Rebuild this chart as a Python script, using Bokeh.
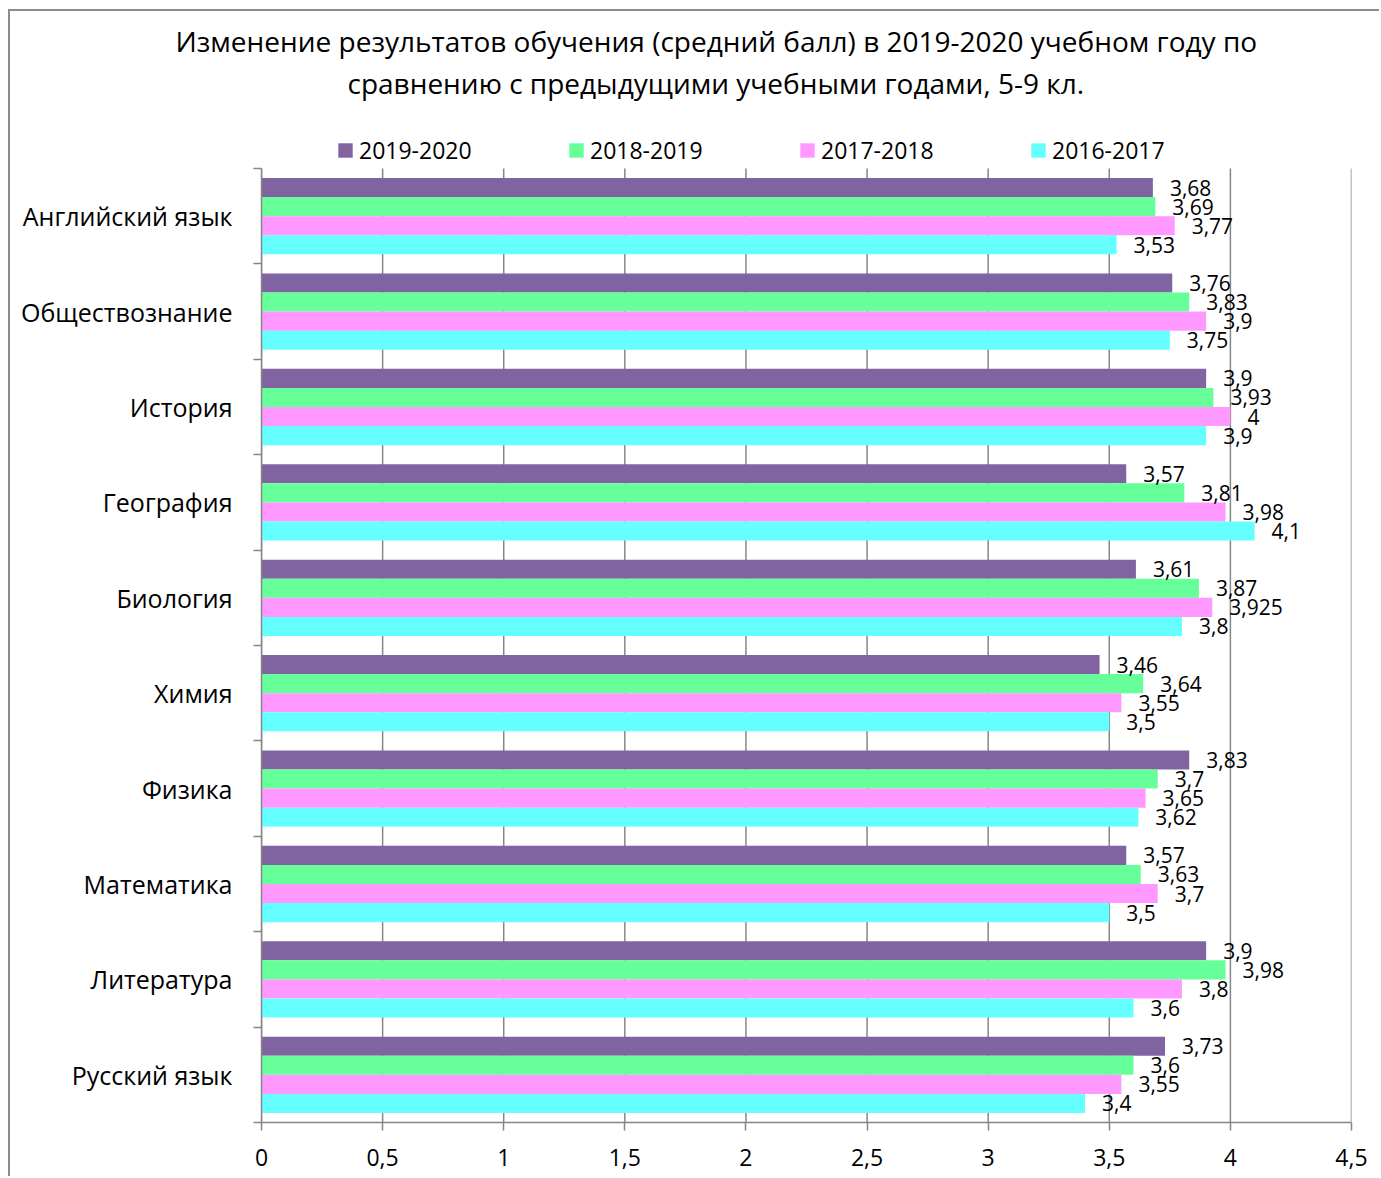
from bokeh.plotting import figure
from bokeh.models import (ColumnDataSource, FixedTicker, LabelSet, Legend,
                          LegendItem, Range1d, Title)
from bokeh.embed import file_html
from bokeh.resources import INLINE
from bokeh.core.properties import value

# ---------------- data ----------------
subjects = ["Английский язык", "Обществознание", "История", "География", "Биология",
            "Химия", "Физика", "Математика", "Литература", "Русский язык"]
s2019_2020 = [3.68, 3.76, 3.9, 3.57, 3.61, 3.46, 3.83, 3.57, 3.9, 3.73]
s2018_2019 = [3.69, 3.83, 3.93, 3.81, 3.87, 3.64, 3.7, 3.63, 3.98, 3.6]
s2017_2018 = [3.77, 3.9, 4.0, 3.98, 3.925, 3.55, 3.65, 3.7, 3.8, 3.55]
s2016_2017 = [3.53, 3.75, 3.9, 4.1, 3.8, 3.5, 3.62, 3.5, 3.6, 3.4]
series_names = ["2019-2020", "2018-2019", "2017-2018", "2016-2017"]
x_ticks = [0, 0.5, 1, 1.5, 2, 2.5, 3, 3.5, 4, 4.5]
x_tick_labels = ["0", "0,5", "1", "1,5", "2", "2,5", "3", "3,5", "4", "4,5"]
title_lines = ["Изменение результатов обучения (средний балл) в 2019-2020 учебном году по",
               "сравнению с предыдущими учебными годами, 5-9 кл."]

series_values = [s2019_2020, s2018_2019, s2017_2018, s2016_2017]
colors = ["#8064A2", "#66FF99", "#FF99FF", "#66FFFF"]
offsets = [0.3, 0.1, -0.1, -0.3]
BAR_H = 0.2
FONT = "Open Sans"
GRAY = "#868686"

n = len(subjects)
centers = [n - i - 0.5 for i in range(n)]

# layout (canvas pixels)
W, H = 1371, 1167
BORDER_L, BORDER_R, BORDER_T, BORDER_B = 251, 30, 92, 56
plot_px = 954                       # height occupied by the category bands
frame_px = H - BORDER_T - BORDER_B  # frame also hosts the legend row
y_top = n * frame_px / plot_px

p = figure(width=W, height=H, output_backend="svg", toolbar_location=None,
           x_range=Range1d(0, 4.5), y_range=Range1d(0, y_top),
           min_border_left=BORDER_L, min_border_right=BORDER_R, min_border_top=BORDER_T,
           min_border_bottom=BORDER_B, outline_line_color=None, title=None)
p.background_fill_color = "white"
p.border_fill_color = "white"

# vertical grid lines (only over the category bands)
p.segment(x0=x_ticks, y0=0, x1=x_ticks, y1=n, line_color=GRAY, line_width=1.5,
          level="underlay")
p.xgrid.visible = False
p.ygrid.visible = False

renderers = []
for name, vals, col, off in zip(series_names, series_values, colors, offsets):
    ys = [c + off for c in centers]
    lbls = [("%g" % v).replace(".", ",") for v in vals]
    src = ColumnDataSource(dict(y=ys, right=vals, lbl=lbls))
    r = p.hbar(y="y", left=0, right="right", height=BAR_H, source=src,
               fill_color=col, line_color=None)
    renderers.append(r)
    ls = LabelSet(x="right", y="y", text="lbl", source=src, x_offset=17,
                  text_baseline="middle", text_align="left",
                  text_font=value(FONT), text_font_size="21px", text_color="black")
    p.add_layout(ls)

# x axis
xa = p.xaxis[0]
xa.ticker = FixedTicker(ticks=x_ticks)
xa.major_label_overrides = dict(zip(x_ticks, x_tick_labels))
xa.axis_line_color = GRAY
xa.axis_line_width = 1.5
xa.major_tick_line_color = GRAY
xa.major_tick_line_width = 1.5
xa.major_tick_out = 8
xa.major_tick_in = 0
xa.minor_tick_line_color = None
xa.major_label_text_font = FONT
xa.major_label_text_font_size = "23px"
xa.major_label_text_color = "black"
xa.major_label_standoff = 18

# y axis
ya = p.yaxis[0]
ya.bounds = (0, n)
ya.ticker = FixedTicker(ticks=centers, minor_ticks=list(range(n + 1)))
ya.major_label_overrides = dict(zip(centers, subjects))
ya.axis_line_color = GRAY
ya.axis_line_width = 1.5
ya.major_tick_line_color = None
ya.major_tick_out = 0
ya.major_tick_in = 0
ya.minor_tick_line_color = GRAY
ya.minor_tick_line_width = 1.5
ya.minor_tick_out = 8
ya.minor_tick_in = 0
ya.major_label_text_font = FONT
ya.major_label_text_font_size = "25px"
ya.major_label_text_color = "black"
ya.major_label_standoff = 21

# legend (inside the frame, above the category bands)
legend = Legend(items=[LegendItem(label=nm, renderers=[r]) for nm, r in zip(series_names, renderers)],
                orientation="horizontal", location=(75, 956),
                glyph_width=18, glyph_height=18, label_standoff=5,
                label_width=190, spacing=18, padding=0, margin=0,
                border_line_color=None, background_fill_alpha=0,
                label_text_font=FONT, label_text_font_size="23px",
                label_text_color="black")
p.add_layout(legend)

# title (two lines), above the frame
title_offsets = [-86, 86]
for t, off in reversed(list(zip(title_lines, title_offsets))):
    p.add_layout(Title(text=t, align="left", offset=off, standoff=4 if off > 0 else 0,
                       text_font=FONT, text_font_size="28px", text_font_style="normal",
                       text_color="black"), "above")

p.styles = {"margin-left": "8px", "margin-top": "9px",
            "border-top": "2px solid #8c8c8c", "border-left": "2px solid #8c8c8c"}

open("out.html", "w").write(file_html(p, INLINE))
